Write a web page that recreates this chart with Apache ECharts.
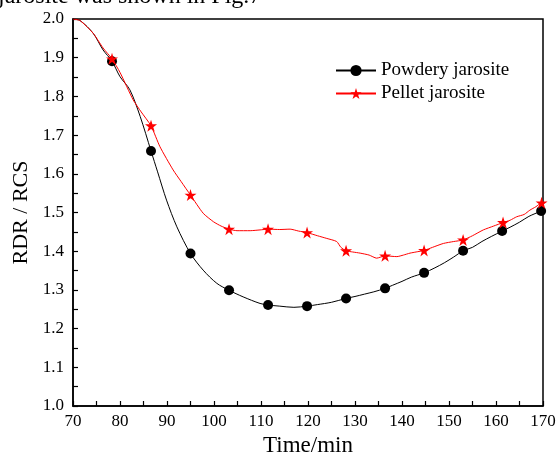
<!DOCTYPE html>
<html><head><meta charset="utf-8">
<script src="https://cdn.jsdelivr.net/npm/echarts@6/dist/echarts.min.js"></script>
<style>html,body{margin:0;padding:0;background:#fff}#c{width:558px;height:453px}</style>
</head><body><div id="c"></div>
<script>
var xTicks = [70, 80, 90, 100, 110, 120, 130, 140, 150, 160, 170];
var yTicks = [1.0, 1.1, 1.2, 1.3, 1.4, 1.5, 1.6, 1.7, 1.8, 1.9, 2.0];

var powderyT = [70, 71.5, 74.3, 76.4, 80, 82.1, 84.3, 88, 89.9, 92.1, 97.7, 100.6, 106.2, 109.8, 114, 117, 122, 125, 130, 132, 134, 138, 140, 142, 147, 149, 151, 155, 157, 159, 163, 165, 167, 170];
var powderyV = [2.0, 1.996, 1.963, 1.92, 1.851, 1.817, 1.748, 1.605, 1.532, 1.463, 1.351, 1.317, 1.282, 1.265, 1.258, 1.255, 1.262, 1.268, 1.283, 1.289, 1.295, 1.312, 1.322, 1.333, 1.357, 1.37, 1.385, 1.41, 1.425, 1.438, 1.462, 1.475, 1.49, 1.508];
var powderyMarkT = [78.3, 86.6, 95, 103.2, 111.5, 119.8, 128.1, 136.4, 144.7, 153, 161.3, 169.6];
var powderyMarkV = [1.891, 1.659, 1.394, 1.299, 1.261, 1.258, 1.278, 1.304, 1.344, 1.401, 1.452, 1.504];

var pelletT = [70, 71.5, 74.3, 76.4, 80, 82.8, 84.5, 88.5, 91.3, 93, 97.7, 99.9, 101.5, 104.9, 107.7, 109.8, 114, 116.2, 118, 122, 124, 126.1, 127, 129.5, 131.1, 133, 134.6, 138.9, 140.3, 141.7, 143, 146.5, 148.8, 151, 155, 157.3, 159.5, 163, 164.4, 166, 167.2, 168.5, 170];
var pelletV = [2.0, 1.996, 1.963, 1.925, 1.862, 1.791, 1.76, 1.67, 1.61, 1.58, 1.498, 1.476, 1.465, 1.453, 1.453, 1.455, 1.456, 1.457, 1.452, 1.44, 1.433, 1.425, 1.41, 1.398, 1.395, 1.39, 1.382, 1.386, 1.39, 1.395, 1.398, 1.41, 1.42, 1.425, 1.44, 1.455, 1.465, 1.48, 1.489, 1.495, 1.506, 1.515, 1.525];
var pelletMarkT = [78.3, 86.6, 95, 103.2, 111.5, 119.8, 128.1, 136.4, 144.7, 153, 161.5, 169.7];
var pelletMarkV = [1.897, 1.724, 1.545, 1.457, 1.457, 1.448, 1.401, 1.388, 1.402, 1.429, 1.474, 1.525];

var seriesNames = ['Powdery jarosite', 'Pellet jarosite'];
var captionText = 'jarosite was shown in Fig.7';

function build(t, v, mt, mv) {
  var pts = [];
  for (var i = 0; i < t.length; i++) pts.push({value: [t[i], v[i]], symbol: 'none'});
  for (var j = 0; j < mt.length; j++) pts.push({value: [mt[j], mv[j]]});
  pts.sort(function (a, b) { return a.value[0] - b.value[0]; });
  return pts;
}

var font = 'Liberation Serif';
var chart = echarts.init(document.getElementById('c'));
chart.setOption({
  animation: false,
  backgroundColor: '#fff',
  grid: {left: 73, right: 15, top: 19, bottom: 47, outerBoundsMode: 'none', containLabel: false,
         show: true, borderColor: '#000', borderWidth: 1.5, backgroundColor: 'transparent'},
  graphic: [{type: 'text', left: -2, top: -15, style: {text: captionText, font: '24px "Liberation Serif"', fill: '#000'}}],
  legend: {
    orient: 'vertical', left: 335, top: 61, itemWidth: 40, itemHeight: 14, itemGap: 4, padding: 0,
    textStyle: {fontFamily: font, fontSize: 19, color: '#000'},
    data: seriesNames
  },
  xAxis: {
    type: 'value', min: xTicks[0], max: xTicks[xTicks.length - 1], interval: 10,
    name: 'Time/min', nameLocation: 'middle', nameGap: 22,
    nameTextStyle: {fontFamily: font, fontSize: 23, color: '#000'},
    axisLine: {lineStyle: {color: '#000', width: 1.5}},
    axisTick: {inside: true, length: 5, lineStyle: {color: '#000', width: 1.2}},
    minorTick: {show: true, splitNumber: 2, length: 5, lineStyle: {color: '#000', width: 1.2}},
    splitLine: {show: false},
    axisLabel: {fontFamily: font, fontSize: 17, color: '#000', margin: 7}
  },
  yAxis: {
    type: 'value', min: yTicks[0], max: yTicks[yTicks.length - 1], interval: 0.1,
    name: 'RDR / RCS', nameLocation: 'middle', nameGap: 37,
    nameTextStyle: {fontFamily: font, fontSize: 22, color: '#000'},
    axisLine: {lineStyle: {color: '#000', width: 1.5}},
    axisTick: {inside: true, length: 5, lineStyle: {color: '#000', width: 1.2}},
    minorTick: {show: true, splitNumber: 2, length: 5, lineStyle: {color: '#000', width: 1.2}},
    splitLine: {show: false},
    axisLabel: {fontFamily: font, fontSize: 17, color: '#000', margin: 9, formatter: function (v) { return v.toFixed(1); }}
  },
  series: [
    {name: seriesNames[0], type: 'line', data: build(powderyT, powderyV, powderyMarkT, powderyMarkV),
     symbol: 'circle', symbolSize: 10, showAllSymbol: true, smooth: 0.3,
     lineStyle: {color: '#000', width: 1}, itemStyle: {color: '#000'}, z: 2},
    {name: seriesNames[1], type: 'line', data: build(pelletT, pelletV, pelletMarkT, pelletMarkV),
     symbol: 'path://M50,0 L61.8,35.5 L100,35.5 L69.1,57.4 L80.9,93.5 L50,71.5 L19.1,93.5 L30.9,57.4 L0,35.5 L38.2,35.5 Z',
     symbolSize: 12, showAllSymbol: true, smooth: 0.2,
     lineStyle: {color: '#ff0000', width: 1}, itemStyle: {color: '#ff0000'}, z: 3}
  ]
});
</script></body></html>
